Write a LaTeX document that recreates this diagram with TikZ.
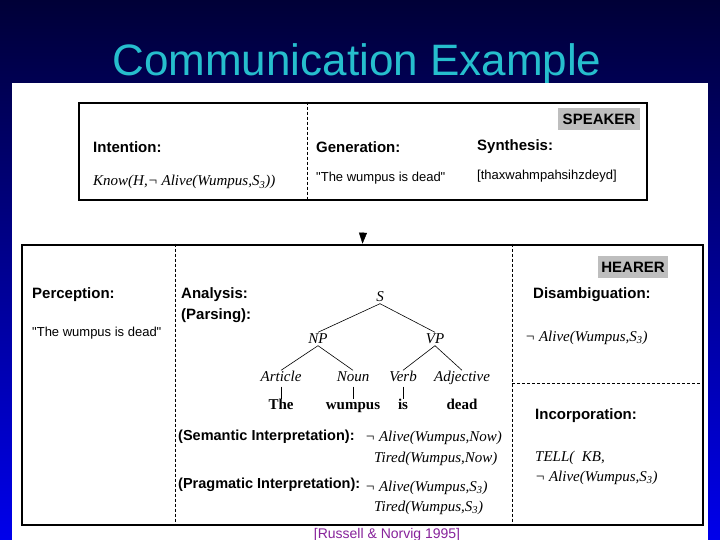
\documentclass[tikz,border=0pt]{standalone}
\usepackage{fontspec}
\setmainfont{Liberation Sans}
\newfontfamily\timesfont{Liberation Serif}
\usepackage{xcolor}
\usepackage{tikz}
\usetikzlibrary{positioning,arrows.meta}
\definecolor{slidetop}{RGB}{0,0,55}
\definecolor{slidebot}{RGB}{0,0,235}
\definecolor{titlecyan}{RGB}{38,190,205}
\definecolor{tagfill}{RGB}{190,190,190}
\definecolor{citepurple}{RGB}{135,35,155}

\begin{document}
\begin{tikzpicture}[x=1pt, y=-1pt]
    \tikzstyle{panel} = [draw, line width=2.6pt, rectangle, inner sep=0pt]
    \tikzstyle{divider} = [dash pattern=on 3pt off 2pt, line width=0.8pt]
    \tikzstyle{heading} = [anchor=base west, inner sep=0pt, font=\fontsize{15}{17}\selectfont\bfseries]
    \tikzstyle{quote} = [anchor=base west, inner sep=0pt, font=\fontsize{13}{15}\selectfont]
    \tikzstyle{logic} = [anchor=base west, inner sep=0pt, font=\fontsize{15}{17}\timesfont\itshape]
    \tikzstyle{tag} = [fill=tagfill, inner sep=2pt, minimum height=22pt, font=\fontsize{15}{17}\selectfont\bfseries]
    \tikzstyle{cat} = [inner sep=1pt, text height=10pt, text depth=1pt, font=\fontsize{15}{17}\timesfont\itshape]
    \tikzstyle{word} = [inner sep=1pt, text height=10pt, text depth=3pt, font=\fontsize{15}{17}\timesfont\bfseries]
    \tikzstyle{branch} = [line width=0.6pt]

    \useasboundingbox (0,0) rectangle (720,540);
    \shade [top color=slidetop, bottom color=slidebot] (0,0) rectangle (720,540);
    \node [anchor=base, text=titlecyan, font=\fontsize{44}{48}\selectfont] (title) at (357,76) {Communication Example};
    \fill [white] (12,83) rectangle (708,540);

    % speaker
    \node [panel, minimum width=568pt, minimum height=97pt] (speaker) at (363,151.5) {};
    \coordinate (gensplit) at (307,151);
    \draw [divider] (gensplit |- speaker.north) -- (gensplit |- speaker.south);
    \node [tag, minimum width=82pt] (speakertag) at (599,119) {SPEAKER};
    \node [heading] (intention) at (93,153) {Intention:};
    \node [logic] (intentlogic) at (93,186) {Know(H,¬ Alive(Wumpus,S\textsubscript{3}))};
    \node [heading] (generation) at (316,153) {Generation:};
    \node [quote] (genquote) at (316,182) {\textquotedbl The wumpus is dead\textquotedbl};
    \node [heading] (synthesis) at (477,151) {Synthesis:};
    \node [quote] (synthsound) at (477,180) {[thaxwahmpahsihzdeyd]};

    % hearer
    \node [panel, minimum width=681pt, minimum height=280pt] (hearer) at (362.5,385) {};
    \coordinate (percsplit) at (175,385);
    \coordinate (disasplit) at (512,383);
    \draw [divider] (percsplit |- hearer.north) -- (percsplit |- hearer.south);
    \draw [divider] (disasplit |- hearer.north) -- (disasplit |- hearer.south);
    \draw [divider] (disasplit) -- (disasplit -| hearer.east);
    \node [tag, minimum width=70pt] (hearertag) at (633,267) {HEARER};

    \coordinate (handoff) at (363,232);
    \draw [-{Triangle[length=11pt, width=8pt]}] (handoff) -- (hearer.north);

    \node [heading] (perception) at (32,298) {Perception:};
    \node [quote] (percquote) at (32,336) {\textquotedbl The wumpus is dead\textquotedbl};
    \node [heading] (analysis) at (181,298) {Analysis:};
    \node [heading] (parsing) at (181,319) {(Parsing):};

    \node [cat] (s) at (380,297) {S};
    \node [cat] (np) at (318,339) {NP};
    \node [cat] (vp) at (435,339) {VP};
    \node [cat] (article) at (281,377) {Article};
    \node [cat] (noun) at (353,377) {Noun};
    \node [cat] (verb) at (403,377) {Verb};
    \node [cat] (adjective) at (462,377) {Adjective};
    \node [word, below=15pt of article] (the) {The};
    \node [word, below=15pt of noun] (wumpus) {wumpus};
    \node [word, below=15pt of verb] (is) {is};
    \node [word, below=15pt of adjective] (dead) {dead};
    \draw [branch] (s.south) -- (np.north);
    \draw [branch] (s.south) -- (vp.north);
    \draw [branch] (np.south) -- (article.north);
    \draw [branch] (np.south) -- (noun.north);
    \draw [branch] (vp.south) -- (verb.north);
    \draw [branch] (vp.south) -- (adjective.north);
    \draw [branch, shorten <=3pt] (article.south) -- (article.south |- the.north);
    \draw [branch, shorten <=3pt] (noun.south) -- (noun.south |- wumpus.north);
    \draw [branch, shorten <=3pt] (verb.south) -- (verb.south |- is.north);

    \node [heading, font=\fontsize{14.5}{17}\selectfont\bfseries] (semantic) at (178,440) {(Semantic Interpretation):};
    \node [logic] (semalive) at (365,441) {¬ Alive(Wumpus,Now)};
    \node [logic] (semtired) at (374,462) {Tired(Wumpus,Now)};
    \node [heading, font=\fontsize{14.5}{17}\selectfont\bfseries] (pragmatic) at (178,488) {(Pragmatic Interpretation):};
    \node [logic] (pragalive) at (365,491) {¬ Alive(Wumpus,S\textsubscript{3})};
    \node [logic] (pragtired) at (374,511) {Tired(Wumpus,S\textsubscript{3})};

    \node [heading] (disambiguation) at (533,298) {Disambiguation:};
    \node [logic] (disalogic) at (525,341) {¬ Alive(Wumpus,S\textsubscript{3})};
    \node [heading] (incorporation) at (535,419) {Incorporation:};
    \node [logic] (tell) at (535,461) {TELL(\ \ KB,};
    \node [logic] (incorplogic) at (535,481) {¬ Alive(Wumpus,S\textsubscript{3})};

    \node [anchor=base, text=citepurple, font=\fontsize{14}{16}\selectfont] (cite) at (387,538) {[Russell \& Norvig 1995]};
\end{tikzpicture}
\end{document}
